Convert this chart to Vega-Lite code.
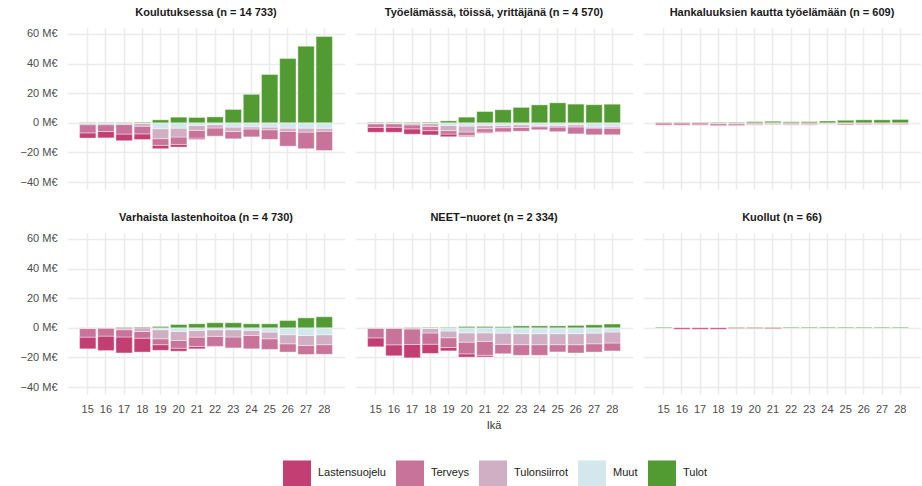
{
  "$schema": "https://vega.github.io/schema/vega-lite/v6.json",
  "padding": {"left": 20, "top": 6, "right": 0, "bottom": 0},
  "background": "white",
  "data": {"values": [
    {"g": "Koulutuksessa (n = 14 733)", "ika": 15, "Lastensuojelu": -3.5, "Terveys": -5.5, "Tulonsiirrot": -1.0, "Muut": -0.3, "Tulot": 0.3},
    {"g": "Koulutuksessa (n = 14 733)", "ika": 16, "Lastensuojelu": -4.3, "Terveys": -4.6, "Tulonsiirrot": -1.0, "Muut": -0.3, "Tulot": 0.3},
    {"g": "Koulutuksessa (n = 14 733)", "ika": 17, "Lastensuojelu": -4.5, "Terveys": -6.4, "Tulonsiirrot": -1.0, "Muut": -0.2, "Tulot": 0.3},
    {"g": "Koulutuksessa (n = 14 733)", "ika": 18, "Lastensuojelu": -3.8, "Terveys": -5.2, "Tulonsiirrot": -2.0, "Muut": -0.3, "Tulot": 0.5},
    {"g": "Koulutuksessa (n = 14 733)", "ika": 19, "Lastensuojelu": -2.3, "Terveys": -4.5, "Tulonsiirrot": -6.7, "Muut": -4.0, "Tulot": 2.0},
    {"g": "Koulutuksessa (n = 14 733)", "ika": 20, "Lastensuojelu": -1.8, "Terveys": -5.0, "Tulonsiirrot": -6.0, "Muut": -3.6, "Tulot": 3.8},
    {"g": "Koulutuksessa (n = 14 733)", "ika": 21, "Lastensuojelu": -0.9, "Terveys": -5.2, "Tulonsiirrot": -3.3, "Muut": -1.8, "Tulot": 3.6},
    {"g": "Koulutuksessa (n = 14 733)", "ika": 22, "Lastensuojelu": -0.1, "Terveys": -5.5, "Tulonsiirrot": -2.2, "Muut": -1.3, "Tulot": 4.0},
    {"g": "Koulutuksessa (n = 14 733)", "ika": 22, "Lastensuojelu": 0.3},
    {"g": "Koulutuksessa (n = 14 733)", "ika": 23, "Terveys": -4.9, "Tulonsiirrot": -3.0, "Muut": -2.9, "Tulot": 9.0},
    {"g": "Koulutuksessa (n = 14 733)", "ika": 24, "Terveys": -5.3, "Tulonsiirrot": -1.5, "Muut": -2.7, "Tulot": 19.2},
    {"g": "Koulutuksessa (n = 14 733)", "ika": 24, "Terveys": 0.4},
    {"g": "Koulutuksessa (n = 14 733)", "ika": 25, "Terveys": -6.5, "Tulonsiirrot": -1.8, "Muut": -2.9, "Tulot": 32.6},
    {"g": "Koulutuksessa (n = 14 733)", "ika": 26, "Terveys": -10.0, "Tulonsiirrot": -2.2, "Muut": -3.6, "Tulot": 43.4},
    {"g": "Koulutuksessa (n = 14 733)", "ika": 27, "Terveys": -11.2, "Tulonsiirrot": -2.7, "Muut": -3.6, "Tulot": 51.7},
    {"g": "Koulutuksessa (n = 14 733)", "ika": 27, "Terveys": 0.5},
    {"g": "Koulutuksessa (n = 14 733)", "ika": 28, "Terveys": -13.0, "Tulonsiirrot": -2.0, "Muut": -3.7, "Tulot": 58.3},

    {"g": "Työelämässä, töissä, yrittäjänä (n = 4 570)", "ika": 15, "Lastensuojelu": -3.3, "Terveys": -2.4, "Tulonsiirrot": -0.5, "Muut": -0.2, "Tulot": 0.4},
    {"g": "Työelämässä, töissä, yrittäjänä (n = 4 570)", "ika": 16, "Lastensuojelu": -3.4, "Terveys": -2.3, "Tulonsiirrot": -0.5, "Muut": -0.2, "Tulot": 0.4},
    {"g": "Työelämässä, töissä, yrittäjänä (n = 4 570)", "ika": 17, "Lastensuojelu": -3.6, "Terveys": -2.7, "Tulonsiirrot": -1.2, "Muut": -0.2, "Tulot": 0.4},
    {"g": "Työelämässä, töissä, yrittäjänä (n = 4 570)", "ika": 18, "Lastensuojelu": -2.9, "Terveys": -2.9, "Tulonsiirrot": -2.1, "Muut": -0.3, "Tulot": 0.5},
    {"g": "Työelämässä, töissä, yrittäjänä (n = 4 570)", "ika": 19, "Lastensuojelu": -1.8, "Terveys": -2.3, "Tulonsiirrot": -3.5, "Muut": -1.8, "Tulot": 1.3},
    {"g": "Työelämässä, töissä, yrittäjänä (n = 4 570)", "ika": 20, "Lastensuojelu": -0.8, "Terveys": -2.3, "Tulonsiirrot": -4.0, "Muut": -2.2, "Tulot": 3.8},
    {"g": "Työelämässä, töissä, yrittäjänä (n = 4 570)", "ika": 21, "Lastensuojelu": -0.7, "Terveys": -2.3, "Tulonsiirrot": -2.2, "Muut": -1.8, "Tulot": 7.6},
    {"g": "Työelämässä, töissä, yrittäjänä (n = 4 570)", "ika": 22, "Lastensuojelu": -0.2, "Terveys": -2.8, "Tulonsiirrot": -1.5, "Muut": -1.8, "Tulot": 8.8},
    {"g": "Työelämässä, töissä, yrittäjänä (n = 4 570)", "ika": 23, "Terveys": -2.6, "Tulonsiirrot": -1.8, "Muut": -1.3, "Tulot": 10.4},
    {"g": "Työelämässä, töissä, yrittäjänä (n = 4 570)", "ika": 23, "Terveys": 0.3},
    {"g": "Työelämässä, töissä, yrittäjänä (n = 4 570)", "ika": 24, "Terveys": -2.0, "Tulonsiirrot": -0.9, "Muut": -1.8, "Tulot": 12.1},
    {"g": "Työelämässä, töissä, yrittäjänä (n = 4 570)", "ika": 25, "Terveys": -3.1, "Tulonsiirrot": -1.1, "Muut": -1.8, "Tulot": 13.5},
    {"g": "Työelämässä, töissä, yrittäjänä (n = 4 570)", "ika": 26, "Terveys": -4.7, "Tulonsiirrot": -1.5, "Muut": -1.3, "Tulot": 12.6},
    {"g": "Työelämässä, töissä, yrittäjänä (n = 4 570)", "ika": 27, "Terveys": -4.5, "Tulonsiirrot": -0.7, "Muut": -2.9, "Tulot": 12.2},
    {"g": "Työelämässä, töissä, yrittäjänä (n = 4 570)", "ika": 27, "Terveys": 0.4},
    {"g": "Työelämässä, töissä, yrittäjänä (n = 4 570)", "ika": 28, "Terveys": -4.5, "Tulonsiirrot": -0.9, "Muut": -2.7, "Tulot": 12.6},

    {"g": "Hankaluuksien kautta työelämään (n = 609)", "ika": 15, "Lastensuojelu": -0.8, "Terveys": -0.8, "Tulot": 0.3},
    {"g": "Hankaluuksien kautta työelämään (n = 609)", "ika": 16, "Lastensuojelu": -0.8, "Terveys": -0.8, "Tulot": 0.3},
    {"g": "Hankaluuksien kautta työelämään (n = 609)", "ika": 17, "Lastensuojelu": -0.7, "Terveys": -0.9, "Tulot": 0.3},
    {"g": "Hankaluuksien kautta työelämään (n = 609)", "ika": 18, "Lastensuojelu": -0.5, "Terveys": -1.1, "Tulonsiirrot": -0.6, "Tulot": 0.4},
    {"g": "Hankaluuksien kautta työelämään (n = 609)", "ika": 19, "Lastensuojelu": -0.4, "Terveys": -1.0, "Tulonsiirrot": -0.7, "Tulot": 0.4},
    {"g": "Hankaluuksien kautta työelämään (n = 609)", "ika": 20, "Terveys": -0.6, "Tulonsiirrot": -1.0, "Tulot": 0.8},
    {"g": "Hankaluuksien kautta työelämään (n = 609)", "ika": 21, "Terveys": -0.5, "Tulonsiirrot": -0.6, "Tulot": 1.0},
    {"g": "Hankaluuksien kautta työelämään (n = 609)", "ika": 22, "Terveys": -0.6, "Tulonsiirrot": -1.0, "Tulot": 0.7},
    {"g": "Hankaluuksien kautta työelämään (n = 609)", "ika": 23, "Terveys": -0.6, "Tulonsiirrot": -1.0, "Tulot": 0.8},
    {"g": "Hankaluuksien kautta työelämään (n = 609)", "ika": 24, "Terveys": -0.5, "Tulonsiirrot": -0.4, "Tulot": 1.2},
    {"g": "Hankaluuksien kautta työelämään (n = 609)", "ika": 25, "Terveys": -1.0, "Tulonsiirrot": -0.4, "Tulot": 1.7},
    {"g": "Hankaluuksien kautta työelämään (n = 609)", "ika": 26, "Terveys": -0.9, "Tulonsiirrot": -0.3, "Tulot": 2.0},
    {"g": "Hankaluuksien kautta työelämään (n = 609)", "ika": 27, "Terveys": -0.8, "Tulonsiirrot": -0.3, "Tulot": 2.0},
    {"g": "Hankaluuksien kautta työelämään (n = 609)", "ika": 28, "Terveys": -0.8, "Tulonsiirrot": -0.3, "Tulot": 2.2},

    {"g": "Varhaista lastenhoitoa (n = 4 730)", "ika": 15, "Lastensuojelu": -7.9, "Terveys": -5.8, "Tulonsiirrot": -0.5, "Tulot": 0.1},
    {"g": "Varhaista lastenhoitoa (n = 4 730)", "ika": 16, "Lastensuojelu": -9.8, "Terveys": -5.4, "Tulonsiirrot": -0.2, "Tulot": 0.1},
    {"g": "Varhaista lastenhoitoa (n = 4 730)", "ika": 17, "Lastensuojelu": -10.8, "Terveys": -4.9, "Tulonsiirrot": -1.3, "Tulot": 0.4},
    {"g": "Varhaista lastenhoitoa (n = 4 730)", "ika": 18, "Lastensuojelu": -9.4, "Terveys": -4.5, "Tulonsiirrot": -2.5, "Tulot": 0.5},
    {"g": "Varhaista lastenhoitoa (n = 4 730)", "ika": 19, "Lastensuojelu": -3.8, "Terveys": -4.0, "Tulonsiirrot": -6.1, "Muut": -1.3, "Tulot": 0.9},
    {"g": "Varhaista lastenhoitoa (n = 4 730)", "ika": 20, "Lastensuojelu": -2.0, "Terveys": -5.2, "Tulonsiirrot": -6.1, "Muut": -2.5, "Tulot": 2.2},
    {"g": "Varhaista lastenhoitoa (n = 4 730)", "ika": 21, "Lastensuojelu": -1.6, "Terveys": -6.3, "Tulonsiirrot": -4.5, "Muut": -1.8, "Tulot": 2.7},
    {"g": "Varhaista lastenhoitoa (n = 4 730)", "ika": 22, "Lastensuojelu": -0.2, "Terveys": -6.7, "Tulonsiirrot": -4.5, "Muut": -1.3, "Tulot": 3.4},
    {"g": "Varhaista lastenhoitoa (n = 4 730)", "ika": 23, "Lastensuojelu": -0.1, "Terveys": -7.4, "Tulonsiirrot": -4.9, "Muut": -1.3, "Tulot": 3.4},
    {"g": "Varhaista lastenhoitoa (n = 4 730)", "ika": 24, "Terveys": -9.0, "Tulonsiirrot": -3.4, "Muut": -1.8, "Tulot": 2.7},
    {"g": "Varhaista lastenhoitoa (n = 4 730)", "ika": 25, "Terveys": -7.2, "Tulonsiirrot": -4.5, "Muut": -2.9, "Tulot": 2.7},
    {"g": "Varhaista lastenhoitoa (n = 4 730)", "ika": 26, "Terveys": -5.6, "Tulonsiirrot": -6.1, "Muut": -4.7, "Tulot": 4.9},
    {"g": "Varhaista lastenhoitoa (n = 4 730)", "ika": 27, "Terveys": -6.1, "Tulonsiirrot": -6.7, "Muut": -5.2, "Tulot": 6.7},
    {"g": "Varhaista lastenhoitoa (n = 4 730)", "ika": 28, "Terveys": -6.5, "Tulonsiirrot": -6.7, "Muut": -4.7, "Tulot": 7.4},

    {"g": "NEET−nuoret (n = 2 334)", "ika": 15, "Lastensuojelu": -6.0, "Terveys": -6.5, "Tulonsiirrot": -0.3, "Tulot": 0.1},
    {"g": "NEET−nuoret (n = 2 334)", "ika": 16, "Lastensuojelu": -7.4, "Terveys": -11.2, "Tulonsiirrot": -0.3, "Tulot": 0.1},
    {"g": "NEET−nuoret (n = 2 334)", "ika": 17, "Lastensuojelu": -9.0, "Terveys": -10.5, "Tulonsiirrot": -0.8, "Tulot": 0.3},
    {"g": "NEET−nuoret (n = 2 334)", "ika": 18, "Lastensuojelu": -6.2, "Terveys": -7.6, "Tulonsiirrot": -3.0, "Muut": -0.5, "Tulot": 0.4},
    {"g": "NEET−nuoret (n = 2 334)", "ika": 19, "Lastensuojelu": -2.3, "Terveys": -6.6, "Tulonsiirrot": -4.5, "Muut": -2.2, "Tulot": 0.4},
    {"g": "NEET−nuoret (n = 2 334)", "ika": 20, "Lastensuojelu": -2.2, "Terveys": -7.9, "Tulonsiirrot": -6.3, "Muut": -3.4, "Tulot": 0.9},
    {"g": "NEET−nuoret (n = 2 334)", "ika": 21, "Lastensuojelu": -1.1, "Terveys": -9.4, "Tulonsiirrot": -5.8, "Muut": -3.4, "Tulot": 0.9},
    {"g": "NEET−nuoret (n = 2 334)", "ika": 22, "Terveys": -6.3, "Tulonsiirrot": -7.6, "Muut": -3.6, "Tulot": 0.7},
    {"g": "NEET−nuoret (n = 2 334)", "ika": 23, "Terveys": -7.2, "Tulonsiirrot": -7.4, "Muut": -4.0, "Tulot": 1.3},
    {"g": "NEET−nuoret (n = 2 334)", "ika": 24, "Terveys": -7.2, "Tulonsiirrot": -7.4, "Muut": -4.0, "Tulot": 1.3},
    {"g": "NEET−nuoret (n = 2 334)", "ika": 25, "Terveys": -4.9, "Tulonsiirrot": -7.4, "Muut": -4.0, "Tulot": 1.3},
    {"g": "NEET−nuoret (n = 2 334)", "ika": 26, "Terveys": -5.6, "Tulonsiirrot": -7.4, "Muut": -4.0, "Tulot": 1.6},
    {"g": "NEET−nuoret (n = 2 334)", "ika": 27, "Terveys": -5.6, "Tulonsiirrot": -7.2, "Muut": -3.6, "Tulot": 2.0},
    {"g": "NEET−nuoret (n = 2 334)", "ika": 28, "Terveys": -5.3, "Tulonsiirrot": -7.4, "Muut": -2.9, "Tulot": 2.5},

    {"g": "Kuollut (n = 66)", "ika": 15, "Tulot": 0.5},
    {"g": "Kuollut (n = 66)", "ika": 16, "Lastensuojelu": -1.0},
    {"g": "Kuollut (n = 66)", "ika": 17, "Lastensuojelu": -1.0},
    {"g": "Kuollut (n = 66)", "ika": 18, "Lastensuojelu": -1.0},
    {"g": "Kuollut (n = 66)", "ika": 19, "Lastensuojelu": -0.5, "Tulot": 0.4},
    {"g": "Kuollut (n = 66)", "ika": 20, "Lastensuojelu": -0.5, "Tulot": 0.4},
    {"g": "Kuollut (n = 66)", "ika": 21, "Lastensuojelu": -0.6, "Tulot": 0.4},
    {"g": "Kuollut (n = 66)", "ika": 22, "Tulot": 0.5},
    {"g": "Kuollut (n = 66)", "ika": 23, "Tulot": 0.5},
    {"g": "Kuollut (n = 66)", "ika": 24, "Tulot": 0.5},
    {"g": "Kuollut (n = 66)", "ika": 25, "Tulot": 0.5},
    {"g": "Kuollut (n = 66)", "ika": 26, "Tulot": 0.5},
    {"g": "Kuollut (n = 66)", "ika": 27, "Tulot": 0.5},
    {"g": "Kuollut (n = 66)", "ika": 28, "Tulot": 0.5}
  ]},
  "transform": [
    {"fold": ["Lastensuojelu", "Terveys", "Tulonsiirrot", "Muut", "Tulot"], "as": ["kat", "arvo"]},
    {"calculate": "indexof(['Tulot','Muut','Tulonsiirrot','Terveys','Lastensuojelu'], datum.kat)", "as": "jarj"}
  ],
  "facet": {
    "field": "g",
    "type": "nominal",
    "sort": ["Koulutuksessa (n = 14 733)", "Työelämässä, töissä, yrittäjänä (n = 4 570)", "Hankaluuksien kautta työelämään (n = 609)", "Varhaista lastenhoitoa (n = 4 730)", "NEET−nuoret (n = 2 334)", "Kuollut (n = 66)"],
    "title": "Ikä",
    "header": {
      "labelFontWeight": "bold",
      "labelFontSize": 11,
      "labelColor": "#1a1a1a",
      "labelPadding": 10,
      "titleOrient": "bottom",
      "titleFontWeight": "normal",
      "titleFontSize": 11,
      "titleColor": "#333333",
      "titlePadding": 6
    }
  },
  "columns": 3,
  "spacing": {"row": 23, "column": 10},
  "spec": {
    "width": 278,
    "height": 161,
    "mark": {"type": "bar", "stroke": "white", "strokeWidth": 0.4},
    "encoding": {
      "x": {
        "field": "ika",
        "type": "ordinal",
        "scale": {"paddingInner": 0.1, "paddingOuter": 0.69},
        "axis": {"title": null, "labelAngle": 0, "ticks": false, "domain": false, "bandPosition": 0.5, "labelPadding": 9, "grid": true}
      },
      "y": {
        "field": "arvo",
        "type": "quantitative",
        "stack": "zero",
        "scale": {"domain": [-44.7, 64], "nice": false, "zero": false},
        "axis": {"title": null, "values": [-40, -20, 0, 20, 40, 60], "labelExpr": "format(datum.value, 'd') + ' M€'", "ticks": false, "domain": false, "labelPadding": 10}
      },
      "color": {
        "field": "kat",
        "type": "nominal",
        "scale": {
          "domain": ["Lastensuojelu", "Terveys", "Tulonsiirrot", "Muut", "Tulot"],
          "range": ["#C33E72", "#C8749A", "#D0AFC5", "#D3E8EC", "#529B32"]
        },
        "legend": {
          "title": null,
          "orient": "none",
          "direction": "horizontal",
          "legendX": 216,
          "legendY": 431,
          "symbolType": "M-1,-0.93H1V0.93H-1Z",
          "symbolSize": 784,
          "symbolStrokeWidth": 0,
          "labelFontSize": 11,
          "labelColor": "#1a1a1a",
          "labelOffset": 7,
          "columnPadding": 10
        }
      },
      "order": {"field": "jarj", "type": "quantitative"}
    }
  },
  "config": {
    "font": "Liberation Sans",
    "view": {"stroke": null},
    "axis": {"gridColor": "#EBEBEB", "gridWidth": 1.5, "labelColor": "#4D4D4D", "labelFontSize": 11}
  }
}
